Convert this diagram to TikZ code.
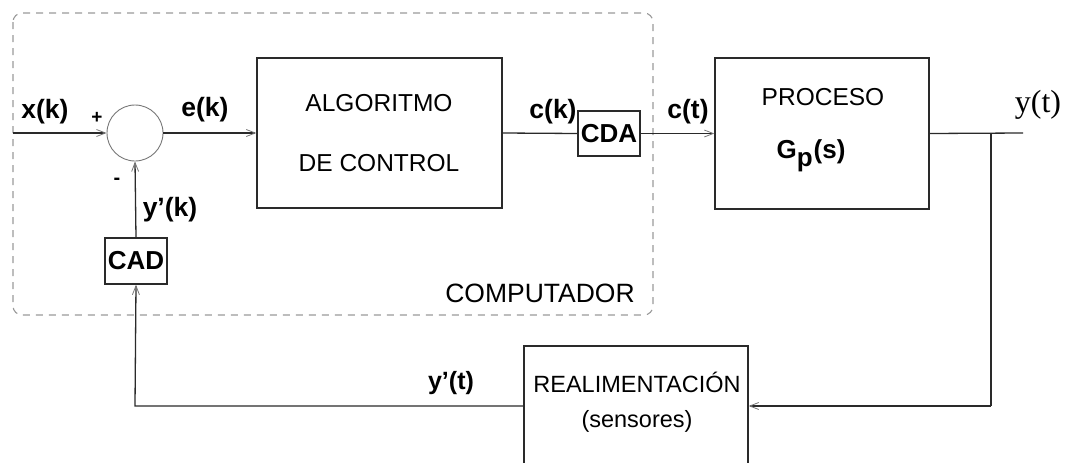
\documentclass[tikz,border=0pt]{standalone}
\usepackage{fontspec}
\setmainfont{Liberation Sans}
\newfontfamily\serifface{Liberation Serif}
\usetikzlibrary{arrows.meta}
\definecolor{linecol}{HTML}{2A2A2A}
\definecolor{tipcol}{HTML}{777777}
\definecolor{dashcol}{HTML}{9A9A9A}
\tikzset{
  blockbox/.style={draw=linecol, line width=1.3pt, rectangle, inner sep=0pt},
  convbox/.style={draw=linecol, line width=1.3pt, rectangle, inner sep=0pt,
    font=\fontsize{26}{30}\selectfont\bfseries},
  sumnode/.style={draw=tipcol, line width=0.9pt, circle, inner sep=0pt, minimum size=56pt},
  sig/.style={font=\fontsize{26.5}{30}\selectfont\bfseries},
  boxtext/.style={font=\fontsize{24.5}{28}\selectfont},
  wire/.style={draw=linecol, line width=1.3pt},
  arr/.style={wire, -{Straight Barb[length=9pt,width=7pt,line width=0.8pt,color=tipcol]}},
  frame/.style={draw=dashcol, line width=1.1pt, dash pattern=on 7pt off 6pt, rounded corners=9pt},
}
\begin{document}
\begin{tikzpicture}[x=1pt, y=-1pt]
\useasboundingbox (0,0) rectangle (1066,463);

% computer boundary
\draw[frame] (13,13) rectangle (653,315);
\node[font=\fontsize{26.5}{30}\selectfont] (comp) at (540,293) {COMPUTADOR};

% blocks
\node[sumnode] (sum) at (135,133) {};
\node[blockbox, minimum width=245pt, minimum height=150pt] (alg) at (379.5,133) {};
\node[boxtext] (algA) at (379,103) {ALGORITMO};
\node[boxtext] (algB) at (379,163) {DE CONTROL};
\node[convbox, minimum width=62pt, minimum height=45pt] (cda) at (609,133.5) {CDA};
\node[blockbox, minimum width=214pt, minimum height=151pt] (proc) at (822,133.5) {};
\node[boxtext] (procA) at (823,97) {PROCESO};
\node[font=\fontsize{26}{30}\selectfont\bfseries] (procB) at (811,156)
  {G\raisebox{-0.55ex}{p}\kern1pt(s)};
\node[convbox, minimum width=62pt, minimum height=46pt] (cad) at (136,261) {CAD};
\node[blockbox, minimum width=224pt, minimum height=150pt] (real) at (636,421) {};
\node[font=\fontsize{23.5}{28}\selectfont] (realA) at (637,382) {REALIMENTACIÓN};
\node[font=\fontsize{23.5}{28}\selectfont] (realB) at (637,421) {(sensores)};

% connector end points
\coordinate (in) at (13,133);
\coordinate (branch) at (991,133);
\coordinate (out) at (1023,133);
\coordinate (fbR) at (991,406);
\coordinate (fbL) at (135,406);

% signal flow
\draw[arr] (in) -- (sum.west);
\draw[arr] (sum.east) -- (alg.west);
\draw[wire] (alg.east) -- (cda.west);
\draw[arr] (cda.east) -- (proc.west);
\draw[wire] (proc.east) -- (out);
\draw[wire] (branch) -- (fbR);
\draw[arr] (fbR) -- (fbR -| real.east);
\draw[arr] (fbL -| real.west) -- (fbL) -- (cad.south);
\draw[arr] (cad.north) -- (sum.south);

% signal labels
\node[sig] (lx) at (45,112) {x(k)};
\node[font=\fontsize{19}{20}\selectfont\bfseries] (lplus) at (97,118) {+};
\node[font=\fontsize{20}{20}\selectfont\bfseries] (lminus) at (117,181) {-};
\node[sig] (le) at (205,110) {e(k)};
\node[sig] (lck) at (553,112) {c(k)};
\node[sig] (lct) at (688,112) {c(t)};
\node[sig] (lyk) at (170,210) {y’(k)};
\node[font=\fontsize{25}{28}\selectfont\bfseries] (lyt2) at (451,383) {y’(t)};
\node[font=\serifface\fontsize{32}{36}\selectfont] (lyt) at (1038,105) {y(t)};
\end{tikzpicture}
\end{document}
